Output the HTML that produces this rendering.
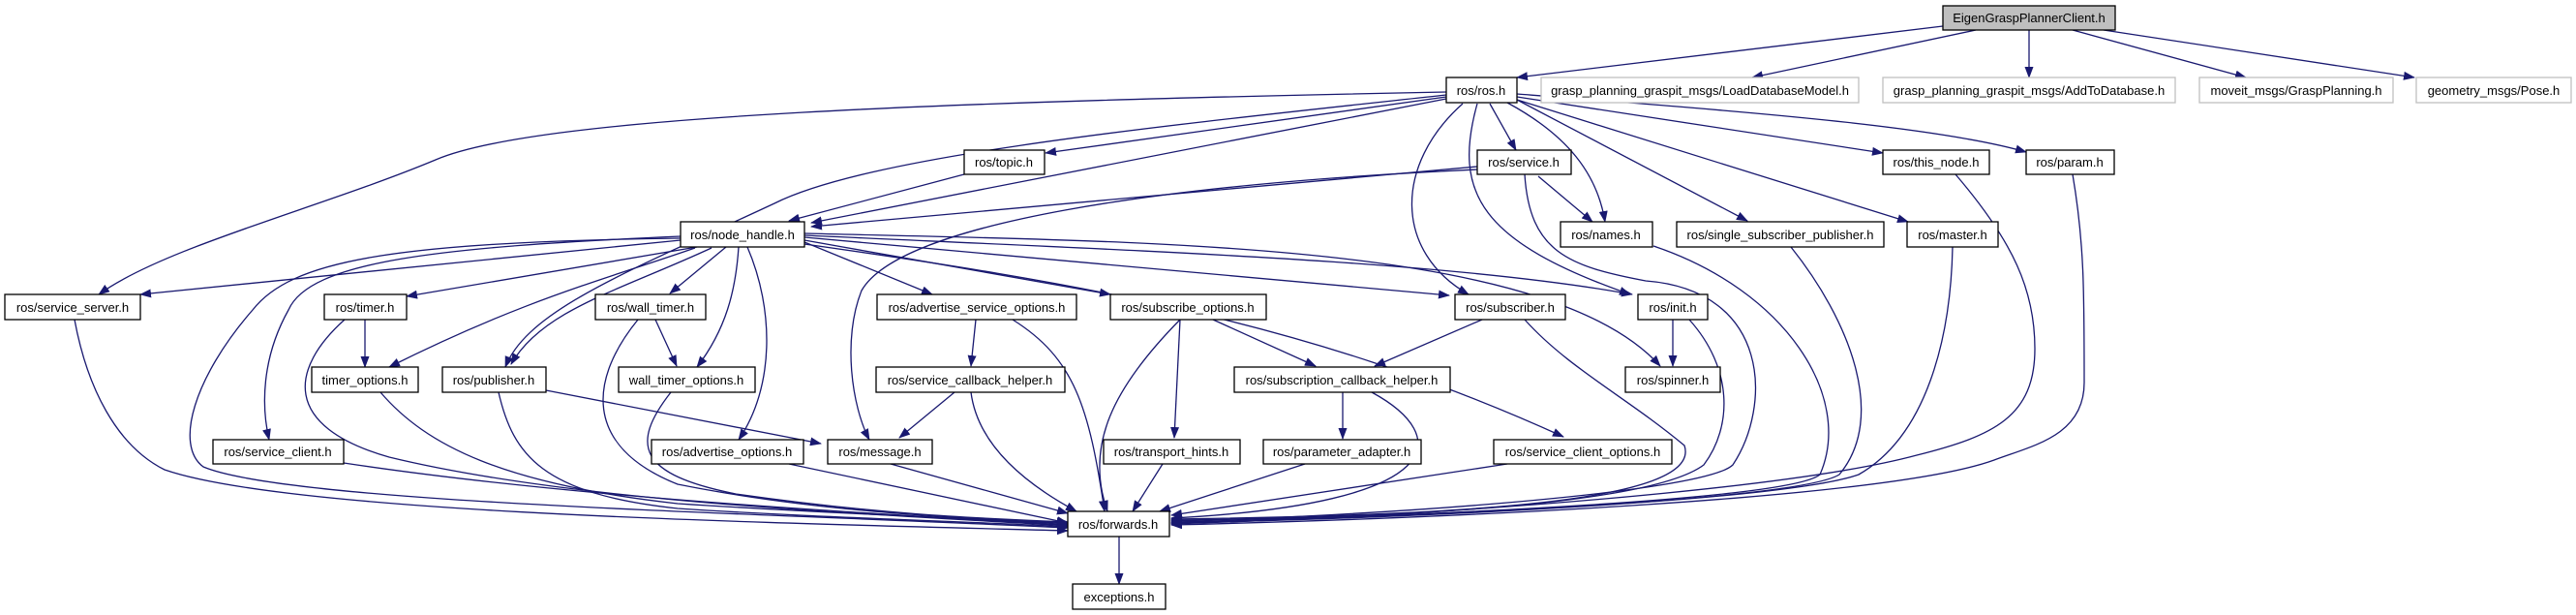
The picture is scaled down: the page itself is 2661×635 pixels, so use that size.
<!DOCTYPE html>
<html><head><meta charset="utf-8"><style>
html,body{margin:0;padding:0;background:#fff}
svg{display:block}
text{font-family:"Liberation Sans",Arial,sans-serif;font-size:13px;fill:#000}
.e{fill:none;stroke:#191970;stroke-width:1.3}
.n{fill:#fff;stroke:#000;stroke-width:1.3}
.g{fill:#fff;stroke:#bfbfbf;stroke-width:1.3}
</style></head><body>
<svg width="2661" height="635" viewBox="0 0 2661 635" xmlns="http://www.w3.org/2000/svg">
<defs><marker id="a" markerWidth="12" markerHeight="9" refX="11" refY="4.5" orient="auto" markerUnits="userSpaceOnUse"><path d="M0,0 L12,4.5 L0,9 Z" fill="#191970"/></marker></defs>
<g class="e" marker-end="url(#a)">
<!-- root -->
<path d="M2007,27 L1567,80"/>
<path d="M2041,31 L1810,80"/>
<path d="M2096,31 L2096,80"/>
<path d="M2141,31 L2320,80"/>
<path d="M2173,31 L2494,80"/>
<!-- ros.h -->
<path d="M1494,95 C1000,105 560,118 450,165 C330,215 170,255 102,304"/>
<path d="M1494,102 L838,230"/>
<path d="M1494,100 L1080,158"/>
<path d="M1494,98 C1200,130 900,160 800,210 C650,280 545,320 522,379"/>
<path d="M1539,107 L1566,155"/>
<path d="M1557,106 C1620,140 1650,180 1658,229"/>
<path d="M1511,107 C1440,170 1440,260 1517,304"/>
<path d="M1526,107 C1500,200 1530,250 1684,304"/>
<path d="M1567,100 L1945,158"/>
<path d="M1567,97 C1800,115 2000,130 2093,157"/>
<path d="M1567,103 L1805,228"/>
<path d="M1567,103 L1971,229"/>
<!-- topic / service -->
<path d="M996,180 L815,228"/>
<path d="M1526,172 L838,234"/>
<path d="M1526,175 C1200,190 930,230 890,300 C870,350 880,420 898,454"/>
<path d="M1589,182 L1645,229"/>
<!-- node_handle -->
<path d="M703,248 L145,304"/>
<path d="M720,255 L420,306"/>
<path d="M750,255 L692,303"/>
<path d="M718,256 C620,290 540,310 402,379"/>
<path d="M735,256 C640,300 560,320 528,376"/>
<path d="M763,255 C760,300 750,340 720,379"/>
<path d="M772,255 C800,320 800,400 763,454"/>
<path d="M703,244 C450,255 320,270 298,320 C270,370 270,420 278,454"/>
<path d="M831,250 L963,304"/>
<path d="M831,248 L1147,304"/>
<path d="M831,245 L1497,305"/>
<path d="M831,243 C1200,260 1500,270 1686,304"/>
<path d="M831,241 C1200,250 1600,250 1715,378"/>
<path d="M831,252 C1100,290 1350,330 1615,451"/>
<!-- mid layer -->
<path d="M377,330 L377,379"/>
<path d="M677,330 L699,378"/>
<path d="M564,403 L848,458"/>
<path d="M1008,330 L1003,378"/>
<path d="M1219,330 L1213,452"/>
<path d="M1253,330 L1359,378"/>
<path d="M1531,330 L1420,378"/>
<path d="M1728,330 L1728,378"/>
<path d="M986,405 L929,452"/>
<path d="M1387,405 L1387,453"/>
<path d="M1156,554 L1156,603"/>
<!-- into forwards left/top -->
<path d="M703,246 C400,250 300,270 261,320 C200,390 180,460 210,482 C300,520 800,530 1103,545"/>
<path d="M77,330 C90,400 120,460 170,485 C300,530 800,540 1103,548"/>
<path d="M356,330 C300,380 290,440 402,472 C600,520 900,530 1103,543"/>
<path d="M393,405 C440,460 520,500 700,520 C850,530 1000,535 1103,541"/>
<path d="M515,405 C530,470 560,510 700,525 C850,535 1000,538 1103,544"/>
<path d="M659,330 C610,390 600,460 700,500 C850,530 1000,535 1103,540"/>
<path d="M693,405 C650,460 660,490 760,510 C900,530 1000,535 1103,539"/>
<path d="M355,478 C600,515 900,530 1103,542"/>
<path d="M815,479 L1103,540"/>
<path d="M920,479 L1103,530"/>
<path d="M1046,330 C1110,370 1125,420 1141,528"/>
<path d="M1219,330 C1150,400 1120,460 1144,528"/>
<path d="M1003,405 C1010,460 1060,500 1112,528"/>
<path d="M1201,479 L1170,528"/>
<path d="M1348,479 L1198,528"/>
<path d="M1417,405 C1500,450 1500,520 1210,535"/>
<path d="M1557,479 L1210,532"/>
<!-- into forwards right -->
<path d="M1575,330 C1620,380 1680,410 1740,460 C1760,520 1500,532 1210,536"/>
<path d="M1745,330 C1790,380 1790,440 1760,480 C1700,525 1400,535 1210,537"/>
<path d="M1575,180 C1580,260 1620,275 1700,290 C1830,300 1830,420 1790,480 C1760,510 1400,534 1210,538"/>
<path d="M1708,254 C1845,300 1915,410 1880,490 C1850,515 1500,532 1210,539"/>
<path d="M1850,255 C1910,330 1950,430 1900,490 C1860,515 1500,533 1210,540"/>
<path d="M2017,255 C2015,350 1990,450 1920,490 C1850,515 1500,534 1210,540"/>
<path d="M2020,180 C2080,250 2102,300 2102,360 C2102,430 2060,450 1980,470 C1850,505 1500,532 1210,541"/>
<path d="M2141,180 C2153,250 2153,300 2153,395 C2153,450 2100,460 2060,475 C1950,515 1500,535 1210,542"/>
</g>
<!-- nodes -->
<rect x="2007" y="6" width="178" height="25" fill="#bfbfbf" stroke="#000" stroke-width="1.3"/><text x="2096" y="23" text-anchor="middle">EigenGraspPlannerClient.h</text>
<rect class="g" x="1592" y="80" width="328" height="26"/><text x="1756" y="98" text-anchor="middle">grasp_planning_graspit_msgs/LoadDatabaseModel.h</text>
<rect class="g" x="1945" y="80" width="302" height="26"/><text x="2096" y="98" text-anchor="middle">grasp_planning_graspit_msgs/AddToDatabase.h</text>
<rect class="g" x="2272" y="80" width="200" height="26"/><text x="2372" y="98" text-anchor="middle">moveit_msgs/GraspPlanning.h</text>
<rect class="g" x="2496" y="80" width="160" height="26"/><text x="2576" y="98" text-anchor="middle">geometry_msgs/Pose.h</text>
<g class="nodes">
<rect class="n" x="1494" y="80" width="73" height="26"/><text x="1530" y="98" text-anchor="middle">ros/ros.h</text>
<rect class="n" x="996" y="155" width="83" height="25"/><text x="1037" y="172" text-anchor="middle">ros/topic.h</text>
<rect class="n" x="1526" y="155" width="97" height="25"/><text x="1574" y="172" text-anchor="middle">ros/service.h</text>
<rect class="n" x="1945" y="155" width="110" height="25"/><text x="2000" y="172" text-anchor="middle">ros/this_node.h</text>
<rect class="n" x="2093" y="155" width="91" height="25"/><text x="2138" y="172" text-anchor="middle">ros/param.h</text>
<rect class="n" x="703" y="229" width="128" height="26"/><text x="767" y="247" text-anchor="middle">ros/node_handle.h</text>
<rect class="n" x="1612" y="229" width="95" height="26"/><text x="1659" y="247" text-anchor="middle">ros/names.h</text>
<rect class="n" x="1732" y="229" width="214" height="26"/><text x="1839" y="247" text-anchor="middle">ros/single_subscriber_publisher.h</text>
<rect class="n" x="1970" y="229" width="94" height="26"/><text x="2017" y="247" text-anchor="middle">ros/master.h</text>
<rect class="n" x="5" y="304" width="140" height="26"/><text x="75" y="322" text-anchor="middle">ros/service_server.h</text>
<rect class="n" x="335" y="304" width="85" height="26"/><text x="377" y="322" text-anchor="middle">ros/timer.h</text>
<rect class="n" x="615" y="304" width="114" height="26"/><text x="672" y="322" text-anchor="middle">ros/wall_timer.h</text>
<rect class="n" x="906" y="304" width="206" height="26"/><text x="1009" y="322" text-anchor="middle">ros/advertise_service_options.h</text>
<rect class="n" x="1147" y="304" width="161" height="26"/><text x="1227" y="322" text-anchor="middle">ros/subscribe_options.h</text>
<rect class="n" x="1503" y="304" width="114" height="26"/><text x="1560" y="322" text-anchor="middle">ros/subscriber.h</text>
<rect class="n" x="1692" y="304" width="72" height="26"/><text x="1728" y="322" text-anchor="middle">ros/init.h</text>
<rect class="n" x="322" y="379" width="110" height="26"/><text x="377" y="397" text-anchor="middle">timer_options.h</text>
<rect class="n" x="457" y="379" width="107" height="26"/><text x="510" y="397" text-anchor="middle">ros/publisher.h</text>
<rect class="n" x="639" y="379" width="141" height="26"/><text x="709" y="397" text-anchor="middle">wall_timer_options.h</text>
<rect class="n" x="905" y="379" width="195" height="26"/><text x="1002" y="397" text-anchor="middle">ros/service_callback_helper.h</text>
<rect class="n" x="1275" y="379" width="223" height="26"/><text x="1386" y="397" text-anchor="middle">ros/subscription_callback_helper.h</text>
<rect class="n" x="1679" y="379" width="98" height="26"/><text x="1728" y="397" text-anchor="middle">ros/spinner.h</text>
<rect class="n" x="220" y="454" width="135" height="25"/><text x="287" y="471" text-anchor="middle">ros/service_client.h</text>
<rect class="n" x="673" y="454" width="157" height="25"/><text x="751" y="471" text-anchor="middle">ros/advertise_options.h</text>
<rect class="n" x="855" y="454" width="108" height="25"/><text x="909" y="471" text-anchor="middle">ros/message.h</text>
<rect class="n" x="1140" y="454" width="141" height="25"/><text x="1210" y="471" text-anchor="middle">ros/transport_hints.h</text>
<rect class="n" x="1305" y="454" width="163" height="25"/><text x="1386" y="471" text-anchor="middle">ros/parameter_adapter.h</text>
<rect class="n" x="1543" y="454" width="184" height="25"/><text x="1635" y="471" text-anchor="middle">ros/service_client_options.h</text>
<rect class="n" x="1103" y="528" width="105" height="26"/><text x="1155" y="546" text-anchor="middle">ros/forwards.h</text>
<rect class="n" x="1108" y="603" width="96" height="26"/><text x="1156" y="621" text-anchor="middle">exceptions.h</text>
</g>
</svg>
</body></html>
